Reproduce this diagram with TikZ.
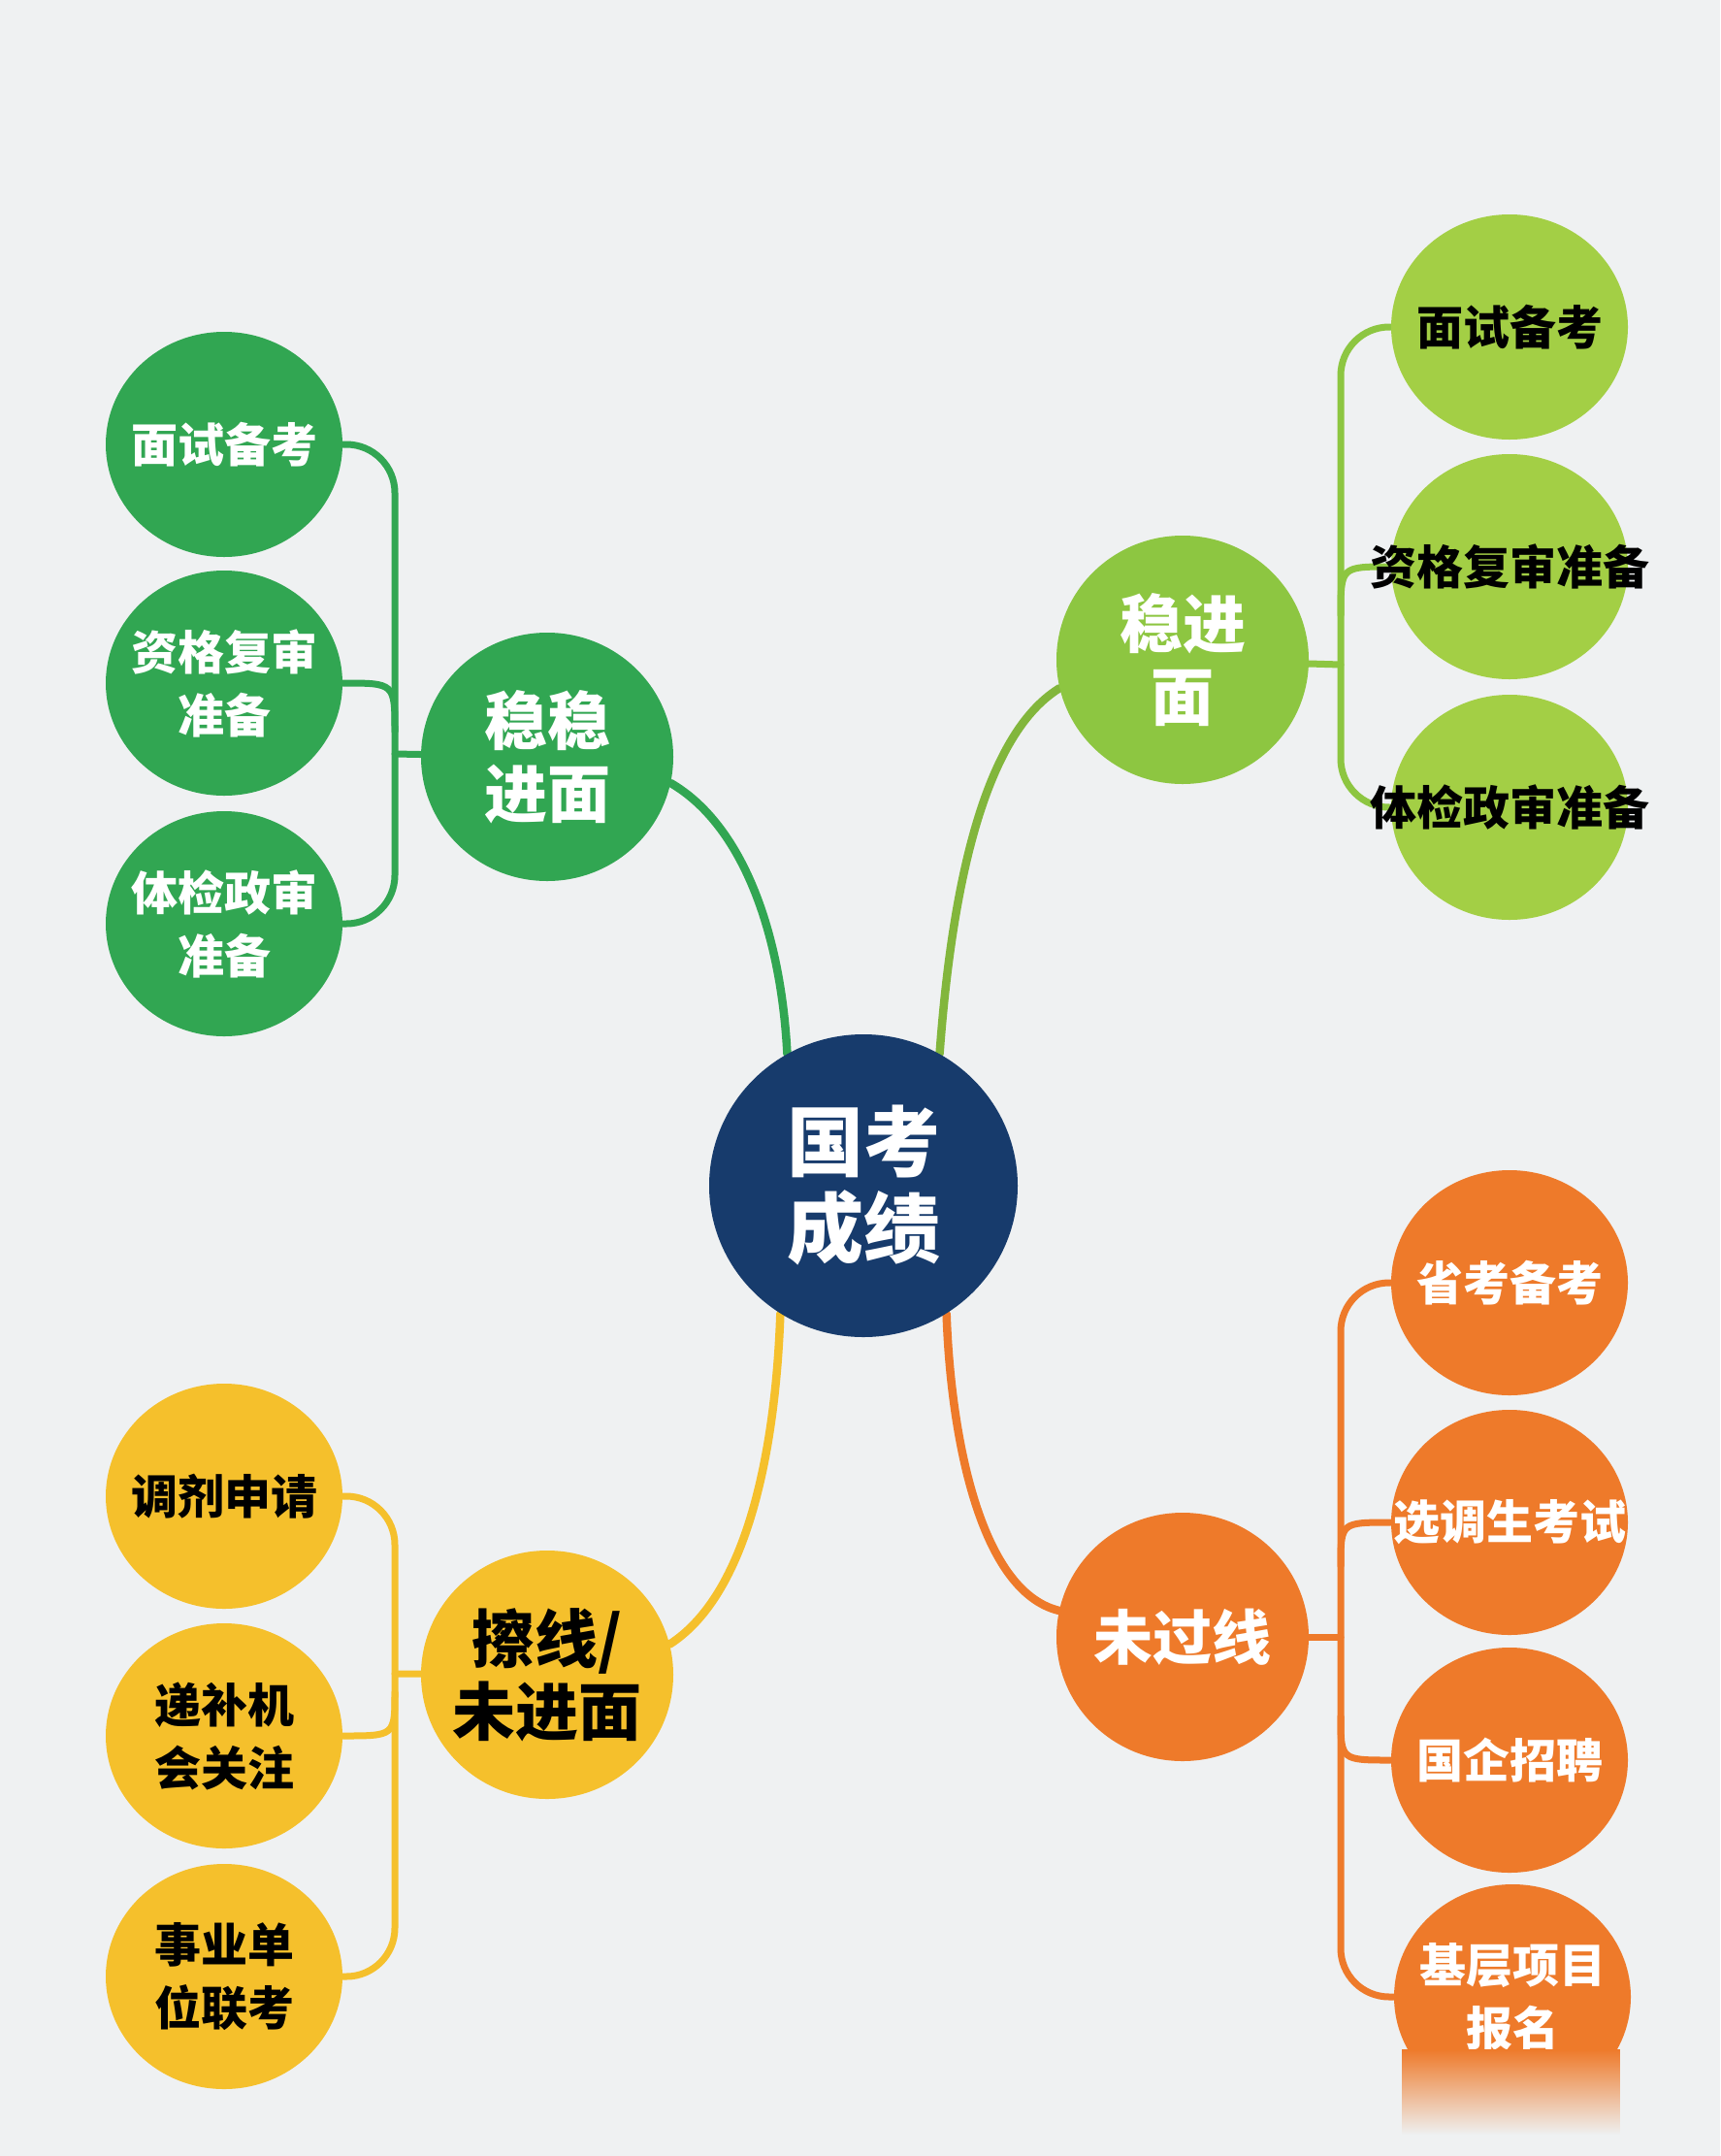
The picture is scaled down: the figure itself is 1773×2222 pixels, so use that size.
\documentclass[tikz,border=0pt]{standalone}
\usepackage{fontspec}
\newfontfamily\cjk{Noto Sans CJK SC}
\usetikzlibrary{shapes.geometric,calc,fadings}
\pgfdeclarelayer{bglayer}
\pgfsetlayers{bglayer,main}
\definecolor{bgc}{HTML}{EFF1F2}
\definecolor{navy}{HTML}{173B6C}
\definecolor{gA}{HTML}{31A652}
\definecolor{gB}{HTML}{8DC641}
\definecolor{gBl}{HTML}{A3CF45}
\definecolor{yC}{HTML}{F5C02C}
\definecolor{oC}{HTML}{EE7A2A}
\begin{document}
\begin{tikzpicture}[x=0.5pt,y=-0.5pt,
  leaf/.style={ellipse, minimum width=122pt, minimum height=116pt, inner sep=0pt},
  mid/.style={ellipse, minimum width=130pt, minimum height=128pt, inner sep=0pt},
  hub/.style={ellipse, minimum width=159pt, minimum height=156pt, inner sep=0pt, fill=navy},
  ltxt/.style={inner sep=0pt, align=center, font=\cjk\bfseries\fontsize{24}{32.5}\selectfont},
  mtxt/.style={inner sep=0pt, align=center, font=\cjk\bfseries\fontsize{32.5}{37.5}\selectfont},
  htxt/.style={inner sep=0pt, align=center, text=white, font=\cjk\bfseries\fontsize{39.5}{44.5}\selectfont},
  mainline/.style={line width=4.25pt, line cap=round},
  combline/.style={line width=3.5pt, line cap=round}
]
\begin{pgfonlayer}{bglayer}
\fill[bgc] (0,0) rectangle (1773,2222);
\end{pgfonlayer}
\useasboundingbox (0,0) rectangle (1773,2222);

% hub
\node[hub, label={[htxt]center:国考\\成绩}] (c) at (890,1222) {};

% left green
\node[mid, fill=gA, label={[mtxt, text=white]center:稳稳\\进面}] (gn) at (564,780) {};
\node[leaf, fill=gA, label={[ltxt, text=white]center:面试备考}] (gl1) at (231,458) {};
\node[leaf, fill=gA, label={[ltxt, text=white]center:资格复审\\准备}] (gl2) at (231,704) {};
\node[leaf, fill=gA, label={[ltxt, text=white]center:体检政审\\准备}] (gl3) at (231,952) {};

% right light green
\node[mid, fill=gB, label={[mtxt, text=white]center:稳进\\面}] (ln) at (1219,680) {};
\node[leaf, fill=gBl, label={[ltxt, text=black]center:面试备考}] (ll1) at (1556,337) {};
\node[leaf, fill=gBl, label={[ltxt, text=black]center:资格复审准备}] (ll2) at (1556,584) {};
\node[leaf, fill=gBl, label={[ltxt, text=black]center:体检政审准备}] (ll3) at (1556,832) {};

% yellow
\node[mid, fill=yC, label={[mtxt, text=black]center:擦线/\\未进面}] (yn) at (564,1726) {};
\node[leaf, fill=yC, label={[ltxt, text=black]center:调剂申请}] (yl1) at (231,1542) {};
\node[leaf, fill=yC, label={[ltxt, text=black]center:递补机\\会关注}] (yl2) at (231,1789) {};
\node[leaf, fill=yC, label={[ltxt, text=black]center:事业单\\位联考}] (yl3) at (231,2037) {};

% orange
\node[mid, fill=oC, label={[mtxt, text=white, font=\cjk\bfseries\fontsize{30.5}{36}\selectfont]center:未过线}] (on) at (1219,1687) {};
\node[leaf, fill=oC, label={[ltxt, text=white]center:省考备考}] (ol1) at (1556,1322) {};
\node[leaf, fill=oC, label={[ltxt, text=white]center:选调生考试}] (ol2) at (1556,1569) {};
\node[leaf, fill=oC, label={[ltxt, text=white]center:国企招聘}] (ol3) at (1556,1814) {};
\node[leaf, fill=oC, label={[ltxt, text=white]center:基层项目\\报名}] (ol4) at (1559,2058) {};

% bottom fade
\fill[bgc] (1430,2112) rectangle (1700,2222);
\fill[oC, path fading=south] (1445,2112) rectangle (1670,2200);

\coordinate (gb) at (407,777);
\coordinate (lb) at (1382,685);
\coordinate (yb) at (407,1725);
\coordinate (ob) at (1382,1687);

\begin{pgfonlayer}{bglayer}
% main connectors
\draw[mainline, gA] (gn.-12) .. controls (765,850) and (805,960) .. (c.120);
\draw[mainline, gB!92!black] (c.60) .. controls (980,930) and (1010,760) .. (ln.193);
\draw[mainline, yC] (c.-123) .. controls (800,1480) and (775,1640) .. (yn.14);
\draw[mainline, oC] (c.-57) .. controls (980,1480) and (1010,1640) .. (on.168);

% left green comb
\draw[combline, gA, rounded corners=25pt] (gl1.east) -- (gl1.east -| gb) -- (gl3.east -| gb) -- (gl3.east);
\draw[combline, gA] (gl2.east) .. controls (gl2.east -| gb) .. ($(gl2.east -| gb)+(0,50)$);
\draw[combline, gA] (gb) -- (gn);

% right light green comb
\draw[combline, gB, rounded corners=25pt] (ll1.west) -- (ll1.west -| lb) -- (ll3.west -| lb) -- (ll3.west);
\draw[combline, gB] ($(ll2.west -| lb)+(0,50)$) .. controls (ll2.west -| lb) .. (ll2.west);
\draw[combline, gB] (ln) -- (lb);

% yellow comb
\draw[combline, yC, rounded corners=25pt] (yl1.east) -- (yl1.east -| yb) -- (yl3.east -| yb) -- (yl3.east);
\draw[combline, yC] (yl2.east) .. controls (yl2.east -| yb) .. ($(yl2.east -| yb)+(0,-45)$);
\draw[combline, yC] (yb) -- (yn);

% orange comb
\draw[combline, oC, rounded corners=25pt] (ol1.west) -- (ol1.west -| ob) -- (ol4.west -| ob) -- (ol4.west);
\draw[combline, oC] ($(ol2.west -| ob)+(0,45)$) .. controls (ol2.west -| ob) .. (ol2.west);
\draw[combline, oC] ($(ol3.west -| ob)+(0,-45)$) .. controls (ol3.west -| ob) .. (ol3.west);
\draw[combline, oC] (on) -- (ob);
\end{pgfonlayer}
\end{tikzpicture}
\end{document}
